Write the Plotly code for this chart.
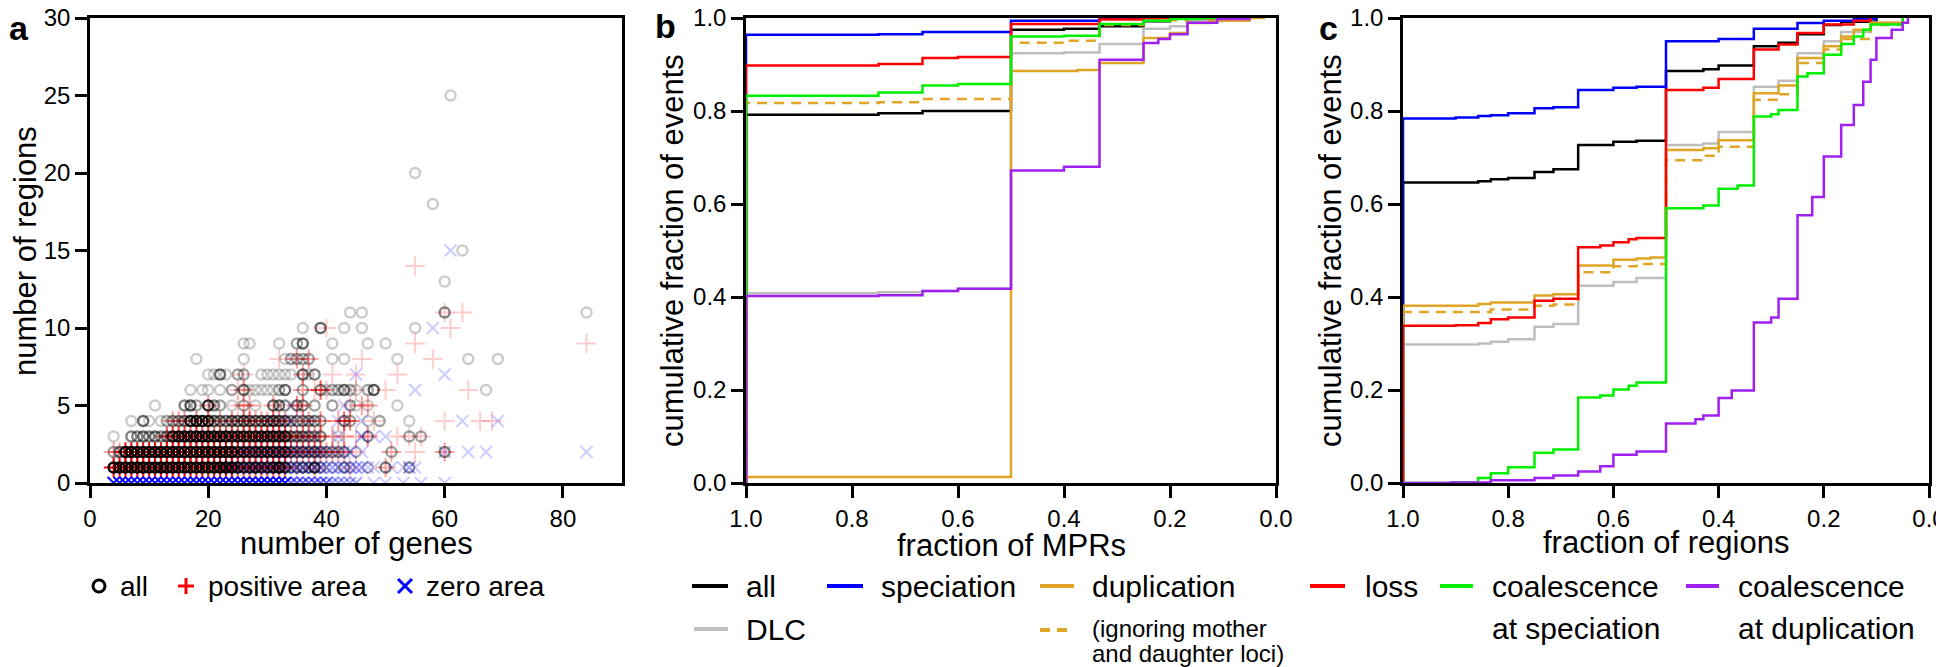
import plotly.graph_objects as go

# ---------------------------------------------------------------------------
# panel a: one entry per (number of genes, number of regions) spot,
# third value = how many gene families sit on that spot (drives darkness)
all_pts = [
    # 1 region
    (4, 1, 30), (5, 1, 30), (6, 1, 30), (7, 1, 30), (8, 1, 30), (9, 1, 30), (10, 1, 30),
    (11, 1, 30), (12, 1, 30), (13, 1, 30), (14, 1, 30), (15, 1, 30), (16, 1, 30), (17, 1, 30),
    (18, 1, 30), (19, 1, 30), (20, 1, 30), (21, 1, 30), (22, 1, 30), (23, 1, 30), (24, 1, 30),
    (25, 1, 8), (26, 1, 6), (27, 1, 6), (28, 1, 8), (29, 1, 6), (30, 1, 6), (31, 1, 8),
    (32, 1, 20), (33, 1, 6), (34, 1, 2), (35, 1, 2), (36, 1, 3), (37, 1, 2), (38, 1, 6),
    (39, 1, 2), (41, 1, 1), (43, 1, 2), (44, 1, 1), (47, 1, 1), (50, 1, 3), (54, 1, 2),
    # 2 regions
    (4, 2, 2), (5, 2, 4), (6, 2, 25), (7, 2, 25), (8, 2, 25), (9, 2, 25), (10, 2, 25),
    (11, 2, 25), (12, 2, 25), (13, 2, 25), (14, 2, 25), (15, 2, 25), (16, 2, 25), (17, 2, 25),
    (18, 2, 25), (19, 2, 25), (20, 2, 25), (21, 2, 25), (22, 2, 25), (23, 2, 25), (24, 2, 25),
    (25, 2, 8), (26, 2, 8), (27, 2, 8), (28, 2, 8), (29, 2, 8), (30, 2, 8), (31, 2, 8),
    (32, 2, 8), (33, 2, 8), (34, 2, 4), (35, 2, 3), (36, 2, 4), (37, 2, 3), (38, 2, 4),
    (39, 2, 3), (40, 2, 2), (41, 2, 2), (42, 2, 2), (43, 2, 2), (45, 2, 1), (51, 2, 2), (60, 2, 3),
    # 3 regions
    (4, 3, 1), (7, 3, 3), (8, 3, 3), (9, 3, 4), (10, 3, 3), (11, 3, 4), (12, 3, 3), (13, 3, 4),
    (14, 3, 10), (15, 3, 15), (16, 3, 15), (17, 3, 15), (18, 3, 15), (19, 3, 15), (20, 3, 15),
    (21, 3, 15), (22, 3, 15), (23, 3, 15), (24, 3, 10), (25, 3, 10), (26, 3, 10), (27, 3, 10),
    (28, 3, 10), (29, 3, 10), (30, 3, 10), (31, 3, 10), (32, 3, 10), (33, 3, 10), (34, 3, 4),
    (35, 3, 4), (36, 3, 4), (37, 3, 3), (38, 3, 3), (39, 3, 3), (42, 3, 1), (47, 3, 2),
    (54, 3, 2), (56, 3, 2),
    # 4 regions
    (7, 4, 1), (9, 4, 4), (10, 4, 1), (12, 4, 1), (13, 4, 2), (14, 4, 3), (15, 4, 3), (16, 4, 4),
    (17, 4, 12), (18, 4, 12), (19, 4, 12), (20, 4, 10), (21, 4, 5), (22, 4, 4), (23, 4, 4),
    (24, 4, 5), (25, 4, 5), (26, 4, 6), (27, 4, 5), (28, 4, 5), (29, 4, 5), (30, 4, 6),
    (31, 4, 6), (32, 4, 6), (33, 4, 4), (34, 4, 3), (35, 4, 3), (36, 4, 3), (37, 4, 3),
    (38, 4, 3), (39, 4, 2), (43, 4, 3), (44, 4, 2), (47, 4, 1), (49, 4, 2), (54, 4, 1),
    # 5 regions
    (11, 5, 1), (16, 5, 3), (17, 5, 5), (18, 5, 2), (20, 5, 8), (21, 5, 3), (22, 5, 2),
    (24, 5, 1), (26, 5, 2), (28, 5, 1), (31, 5, 4), (32, 5, 4), (33, 5, 2), (35, 5, 3),
    (36, 5, 3), (38, 5, 2), (41, 5, 2), (44, 5, 2), (45, 5, 1), (47, 5, 1), (52, 5, 1),
    # 6 regions
    (17, 6, 1), (19, 6, 1), (20, 6, 1), (22, 6, 1), (24, 6, 2), (26, 6, 4), (27, 6, 1),
    (28, 6, 1), (29, 6, 1), (30, 6, 1), (31, 6, 1), (32, 6, 2), (33, 6, 4), (36, 6, 2),
    (39, 6, 3), (40, 6, 1), (41, 6, 2), (42, 6, 2), (43, 6, 4), (44, 6, 2), (45, 6, 1),
    (47, 6, 2), (48, 6, 5), (67, 6, 1),
    # 7+ regions
    (20, 7, 1), (21, 7, 1), (22, 7, 4), (23, 7, 1), (25, 7, 2), (26, 7, 2), (29, 7, 1),
    (30, 7, 1), (31, 7, 1), (32, 7, 1), (33, 7, 1), (34, 7, 1), (36, 7, 4), (37, 7, 1), (38, 7, 3),
    (18, 8, 1), (26, 8, 1), (33, 8, 1), (34, 8, 2), (35, 8, 2), (36, 8, 2), (37, 8, 2),
    (41, 8, 1), (43, 8, 1), (52, 8, 1), (64, 8, 1), (69, 8, 1),
    (26, 9, 1), (27, 9, 1), (32, 9, 1), (35, 9, 2), (36, 9, 4), (41, 9, 1), (47, 9, 1), (50, 9, 1),
    (36, 10, 1), (39, 10, 4), (43, 10, 1), (46, 10, 1), (55, 10, 1),
    (44, 11, 1), (46, 11, 1), (60, 11, 3), (84, 11, 1),
    (60, 13, 1), (63, 15, 1), (58, 18, 1), (55, 20, 1), (61, 25, 1),
]

pos_pts = [
    (4, 1, 20), (5, 1, 20), (6, 1, 20), (7, 1, 20), (8, 1, 20), (9, 1, 20), (10, 1, 20),
    (11, 1, 20), (12, 1, 20), (13, 1, 20), (14, 1, 20), (15, 1, 20), (16, 1, 20), (17, 1, 20),
    (18, 1, 20), (19, 1, 20), (20, 1, 20), (21, 1, 20), (22, 1, 20), (23, 1, 20), (24, 1, 20),
    (25, 1, 5), (26, 1, 5), (27, 1, 5), (28, 1, 5), (29, 1, 5), (30, 1, 5), (31, 1, 5),
    (32, 1, 5), (33, 1, 5), (35, 1, 1), (38, 1, 2), (44, 1, 1), (50, 1, 2),
    (4, 2, 2), (5, 2, 2), (6, 2, 15), (7, 2, 15), (8, 2, 15), (9, 2, 15), (10, 2, 15),
    (11, 2, 15), (12, 2, 15), (13, 2, 15), (14, 2, 15), (15, 2, 15), (16, 2, 15), (17, 2, 15),
    (18, 2, 15), (19, 2, 15), (20, 2, 15), (21, 2, 15), (22, 2, 15), (23, 2, 15), (24, 2, 15),
    (25, 2, 6), (26, 2, 6), (27, 2, 6), (28, 2, 6), (29, 2, 6), (30, 2, 6), (31, 2, 6),
    (32, 2, 6), (33, 2, 6), (34, 2, 3), (35, 2, 3), (36, 2, 3), (37, 2, 3), (38, 2, 3),
    (39, 2, 3), (40, 2, 2), (41, 2, 2), (42, 2, 2), (43, 2, 2), (45, 2, 1), (51, 2, 2),
    (55, 2, 1), (60, 2, 2),
    (13, 3, 5), (14, 3, 5), (15, 3, 5), (16, 3, 5), (17, 3, 5), (18, 3, 5), (19, 3, 5),
    (20, 3, 5), (21, 3, 5), (22, 3, 5), (23, 3, 5), (24, 3, 5), (25, 3, 6), (26, 3, 6),
    (27, 3, 6), (28, 3, 6), (29, 3, 6), (30, 3, 6), (31, 3, 6), (32, 3, 6), (33, 3, 6),
    (34, 3, 3), (35, 3, 3), (36, 3, 3), (37, 3, 3), (38, 3, 3), (39, 3, 3), (41, 3, 2),
    (43, 3, 2), (45, 3, 1), (47, 3, 3), (52, 3, 1), (54, 3, 1), (56, 3, 1),
    (14, 4, 2), (15, 4, 2), (16, 4, 2), (18, 4, 3), (20, 4, 3), (22, 4, 2), (24, 4, 3),
    (26, 4, 3), (27, 4, 3), (28, 4, 2), (29, 4, 2), (30, 4, 2), (31, 4, 3), (32, 4, 3),
    (33, 4, 2), (36, 4, 2), (37, 4, 2), (39, 4, 3), (42, 4, 2), (43, 4, 4), (44, 4, 3),
    (48, 4, 1), (60, 4, 1), (66, 4, 1), (68, 4, 1),
    (20, 5, 2), (25, 5, 1), (26, 5, 2), (27, 5, 2), (31, 5, 2), (35, 5, 3), (36, 5, 2),
    (44, 5, 1), (46, 5, 2), (47, 5, 2),
    (25, 6, 1), (26, 6, 2), (36, 6, 2), (38, 6, 1), (39, 6, 5), (40, 6, 1), (45, 6, 1),
    (50, 6, 1), (64, 6, 1),
    (26, 7, 1), (36, 7, 2), (41, 7, 1), (45, 7, 1), (52, 7, 1),
    (32, 8, 1), (35, 8, 2), (37, 8, 2), (46, 8, 1), (58, 8, 1),
    (55, 9, 1), (84, 9, 1), (40, 10, 1), (61, 10, 1), (60, 11, 1), (63, 11, 1), (55, 14, 1),
]

zero_pts = [
    (4, 0, 15), (5, 0, 15), (6, 0, 15), (7, 0, 15), (8, 0, 15), (9, 0, 15), (10, 0, 15),
    (11, 0, 15), (12, 0, 15), (13, 0, 15), (14, 0, 15), (15, 0, 15), (16, 0, 15), (17, 0, 15),
    (18, 0, 15), (19, 0, 15), (20, 0, 15), (21, 0, 15), (22, 0, 15), (23, 0, 15), (24, 0, 15),
    (25, 0, 15), (26, 0, 15), (27, 0, 15), (28, 0, 15), (29, 0, 15), (30, 0, 15), (31, 0, 15),
    (32, 0, 15), (33, 0, 15), (34, 0, 4), (35, 0, 4), (36, 0, 4), (37, 0, 4), (38, 0, 4),
    (39, 0, 4), (40, 0, 4), (41, 0, 2), (42, 0, 2), (43, 0, 2), (44, 0, 2), (45, 0, 2),
    (48, 0, 1), (50, 0, 1), (53, 0, 1), (56, 0, 1), (60, 0, 1),
    (22, 1, 3), (23, 1, 3), (24, 1, 3), (25, 1, 3), (26, 1, 3), (27, 1, 3), (28, 1, 3),
    (29, 1, 3), (30, 1, 3), (31, 1, 3), (32, 1, 3), (33, 1, 3), (34, 1, 3), (35, 1, 3),
    (36, 1, 3), (37, 1, 3), (38, 1, 3), (39, 1, 3), (40, 1, 2), (41, 1, 2), (42, 1, 2),
    (43, 1, 2), (44, 1, 2), (45, 1, 2), (46, 1, 2), (47, 1, 1), (48, 1, 1), (51, 1, 1),
    (53, 1, 1), (54, 1, 2), (55, 1, 1),
    (25, 2, 2), (26, 2, 2), (27, 2, 2), (28, 2, 2), (29, 2, 2), (30, 2, 2), (31, 2, 2),
    (32, 2, 2), (33, 2, 2), (34, 2, 2), (35, 2, 2), (36, 2, 2), (37, 2, 2), (38, 2, 2),
    (39, 2, 2), (40, 2, 1), (41, 2, 1), (42, 2, 1), (43, 2, 1), (44, 2, 2), (46, 2, 1),
    (60, 2, 1), (64, 2, 1), (67, 2, 1), (84, 2, 1),
    (30, 3, 1), (33, 3, 1), (36, 3, 1), (38, 3, 1), (42, 3, 1), (46, 3, 2), (48, 3, 1), (50, 3, 1),
    (30, 4, 1), (32, 4, 1), (34, 4, 2), (37, 4, 1), (42, 4, 1), (46, 4, 1), (63, 4, 1), (69, 4, 1),
    (34, 5, 1), (43, 5, 1), (55, 6, 1), (45, 7, 1), (60, 7, 1), (58, 10, 1), (61, 15, 1),
]

# ---------------------------------------------------------------------------
# panel b: cumulative fraction of events vs fraction of MPRs
b_all_x = [1.0, 1.0, 0.75, 0.667, 0.5, 0.4, 0.333, 0.25, 0.2, 0.1]
b_all_y = [0.0, 0.792, 0.795, 0.800, 0.975, 0.977, 0.982, 0.993, 1.0, 1.0]
b_dlc_x = [1.0, 1.0, 0.75, 0.667, 0.6, 0.5, 0.4, 0.333, 0.25, 0.2, 0.167, 0.1, 0.05]
b_dlc_y = [0.0, 0.408, 0.410, 0.413, 0.418, 0.924, 0.926, 0.944, 0.977, 0.982, 0.993, 1.0, 1.0]
b_spec_x = [1.0, 1.0, 0.75, 0.667, 0.5, 0.333, 0.25, 0.1]
b_spec_y = [0.0, 0.964, 0.965, 0.970, 0.994, 0.999, 1.0, 1.0]
b_dup_x = [1.0, 1.0, 0.5, 0.375, 0.333, 0.25, 0.2, 0.167, 0.125, 0.05, 0.02]
b_dup_y = [0.0, 0.013, 0.886, 0.888, 0.903, 0.957, 0.968, 0.989, 0.994, 1.0, 1.0]
b_dupign_x = [1.0, 1.0, 0.75, 0.667, 0.5, 0.4, 0.333, 0.25, 0.167, 0.05]
b_dupign_y = [0.0, 0.817, 0.819, 0.826, 0.947, 0.951, 0.985, 0.995, 1.0, 1.0]
b_loss_x = [1.0, 1.0, 0.75, 0.667, 0.6, 0.5, 0.333, 0.25, 0.1]
b_loss_y = [0.0, 0.898, 0.901, 0.914, 0.916, 0.987, 0.997, 1.0, 1.0]
b_cspec_x = [1.0, 1.0, 0.75, 0.667, 0.6, 0.5, 0.4, 0.333, 0.25, 0.2, 0.143, 0.1]
b_cspec_y = [0.0, 0.833, 0.840, 0.855, 0.858, 0.960, 0.962, 0.987, 0.994, 0.998, 1.0, 1.0]
b_cdup_x = [1.0, 1.0, 0.75, 0.667, 0.6, 0.5, 0.4, 0.333, 0.25, 0.222, 0.2, 0.167, 0.111, 0.05]
b_cdup_y = [0.0, 0.402, 0.404, 0.413, 0.418, 0.672, 0.680, 0.910, 0.946, 0.955, 0.965, 0.990, 0.998, 1.0]

# panel c: cumulative fraction of events vs fraction of regions
c_all_x = [1.0, 1.0, 0.857, 0.833, 0.8, 0.75, 0.714, 0.667, 0.6, 0.556, 0.5, 0.429, 0.4,
           0.333, 0.286, 0.25, 0.2, 0.167, 0.1]
c_all_y = [0.0, 0.646, 0.649, 0.653, 0.656, 0.669, 0.675, 0.727, 0.734, 0.736, 0.886, 0.890,
           0.898, 0.939, 0.947, 0.965, 0.985, 0.992, 1.0]
c_dlc_x = [1.0, 1.0, 0.857, 0.833, 0.8, 0.75, 0.714, 0.667, 0.6, 0.556, 0.5, 0.429, 0.4,
           0.333, 0.286, 0.25, 0.2, 0.167, 0.111, 0.05]
c_dlc_y = [0.0, 0.298, 0.300, 0.304, 0.309, 0.336, 0.342, 0.424, 0.432, 0.441, 0.727, 0.730,
           0.755, 0.852, 0.865, 0.924, 0.950, 0.970, 0.990, 1.0]
c_spec_x = [1.0, 1.0, 0.9, 0.857, 0.833, 0.8, 0.75, 0.714, 0.667, 0.6, 0.556, 0.5, 0.4,
            0.333, 0.25, 0.2, 0.143, 0.1]
c_spec_y = [0.0, 0.784, 0.786, 0.789, 0.791, 0.795, 0.806, 0.808, 0.845, 0.850, 0.852, 0.950,
            0.955, 0.977, 0.989, 0.994, 0.998, 1.0]
c_dup_x = [1.0, 1.0, 0.857, 0.833, 0.75, 0.714, 0.667, 0.6, 0.556, 0.529, 0.5, 0.429, 0.4,
           0.333, 0.286, 0.25, 0.2, 0.167, 0.143, 0.111, 0.05]
c_dup_y = [0.0, 0.381, 0.385, 0.388, 0.403, 0.406, 0.468, 0.480, 0.483, 0.485, 0.716, 0.720,
           0.737, 0.838, 0.855, 0.914, 0.939, 0.960, 0.975, 0.990, 1.0]
c_dupign_x = [1.0, 1.0, 0.833, 0.75, 0.714, 0.667, 0.6, 0.556, 0.5, 0.429, 0.4, 0.333, 0.286,
              0.25, 0.2, 0.167, 0.111, 0.05]
c_dupign_y = [0.0, 0.368, 0.373, 0.381, 0.384, 0.453, 0.466, 0.471, 0.694, 0.704, 0.723,
              0.824, 0.836, 0.903, 0.932, 0.955, 0.985, 1.0]
c_loss_x = [1.0, 1.0, 0.9, 0.857, 0.833, 0.8, 0.75, 0.714, 0.667, 0.625, 0.6, 0.571, 0.556,
            0.5, 0.429, 0.4, 0.333, 0.286, 0.25, 0.2, 0.143, 0.111]
c_loss_y = [0.0, 0.338, 0.339, 0.344, 0.352, 0.356, 0.392, 0.396, 0.507, 0.511, 0.518, 0.524,
            0.527, 0.845, 0.850, 0.869, 0.932, 0.943, 0.968, 0.986, 0.994, 1.0]
c_cspec_x = [1.0, 0.909, 0.857, 0.833, 0.8, 0.75, 0.714, 0.667, 0.625, 0.6, 0.571, 0.556, 0.5,
             0.429, 0.4, 0.364, 0.333, 0.3, 0.286, 0.25, 0.231, 0.2, 0.167, 0.143, 0.125,
             0.111, 0.05]
c_cspec_y = [0.0, 0.001, 0.011, 0.021, 0.034, 0.065, 0.072, 0.184, 0.188, 0.201, 0.209, 0.216,
             0.591, 0.597, 0.633, 0.640, 0.788, 0.793, 0.802, 0.874, 0.881, 0.921, 0.944,
             0.960, 0.975, 0.986, 1.0]
c_cdup_x = [1.0, 0.909, 0.833, 0.75, 0.714, 0.667, 0.625, 0.6, 0.556, 0.5, 0.444, 0.429, 0.4,
            0.375, 0.333, 0.3, 0.286, 0.25, 0.222, 0.2, 0.167, 0.143, 0.125, 0.111, 0.1,
            0.071, 0.05, 0.04]
c_cdup_y = [0.0, 0.001, 0.006, 0.011, 0.016, 0.025, 0.036, 0.061, 0.068, 0.128, 0.137, 0.145,
            0.183, 0.199, 0.345, 0.356, 0.396, 0.576, 0.615, 0.702, 0.770, 0.813, 0.863,
            0.910, 0.957, 0.975, 0.990, 1.0]

W, H = 1944, 667
FONT = "Liberation Sans, Arial, sans-serif"


def px(x):
    return x / W


def py(y):
    return 1 - y / H


BLACK, GRAY, BLUE = "#000000", "#BEBEBE", "#0000FF"
ORANGE, RED, GREEN, PURPLE = "#E0A526", "#FF0000", "#00F000", "#A020F0"

fig = go.Figure()


def cloud(pts, symbol, color, size, alpha, lw=2):
    fig.add_trace(go.Scatter(
        x=[p[0] for p in pts], y=[p[1] for p in pts], mode="markers",
        marker=dict(symbol=symbol, size=size, color=color,
                    opacity=[1 - (1 - alpha) ** p[2] for p in pts],
                    line=dict(width=lw, color=color)),
        xaxis="x", yaxis="y", showlegend=False, hoverinfo="skip"))


cloud(pos_pts, "cross-thin-open", RED, 14, 0.2)
cloud(zero_pts, "x-thin-open", BLUE, 12, 0.2)
cloud(all_pts, "circle-open", BLACK, 10, 0.2, 2.4)

series = [
    (b_all_x, b_all_y, c_all_x, c_all_y, BLACK, "solid"),
    (b_dlc_x, b_dlc_y, c_dlc_x, c_dlc_y, GRAY, "solid"),
    (b_spec_x, b_spec_y, c_spec_x, c_spec_y, BLUE, "solid"),
    (b_dup_x, b_dup_y, c_dup_x, c_dup_y, ORANGE, "solid"),
    (b_dupign_x, b_dupign_y, c_dupign_x, c_dupign_y, ORANGE, "10px,7px"),
    (b_loss_x, b_loss_y, c_loss_x, c_loss_y, RED, "solid"),
    (b_cspec_x, b_cspec_y, c_cspec_x, c_cspec_y, GREEN, "solid"),
    (b_cdup_x, b_cdup_y, c_cdup_x, c_cdup_y, PURPLE, "solid"),
]
for bx, by, cx, cy, col, dash in series:
    fig.add_trace(go.Scatter(x=bx, y=by, mode="lines", xaxis="x2", yaxis="y2",
                             line=dict(color=col, width=2.5, shape="hv", dash=dash),
                             showlegend=False, hoverinfo="skip"))
    fig.add_trace(go.Scatter(x=cx, y=cy, mode="lines", xaxis="x3", yaxis="y3",
                             line=dict(color=col, width=2.5, shape="hv", dash=dash),
                             showlegend=False, hoverinfo="skip"))

axis_style = dict(showline=True, linewidth=2.5, linecolor="black", mirror=True,
                  ticks="outside", ticklen=12, tickwidth=2.5, tickcolor="black",
                  showgrid=False, zeroline=False, automargin=False,
                  ticklabeloverflow="allow",
                  tickfont=dict(size=24, color="black", family=FONT))
ydom = [py(475), py(10)]

fig.update_layout(
    width=W, height=H, margin=dict(l=0, r=0, t=0, b=0),
    paper_bgcolor="white", plot_bgcolor="white",
    font=dict(family=FONT, color="black"),
    xaxis=dict(domain=[px(82), px(614)], anchor="y", range=[0, 90], dtick=20, **axis_style),
    yaxis=dict(domain=ydom, anchor="x", range=[0, 30], dtick=5, **axis_style),
    xaxis2=dict(domain=[px(738), px(1268)], anchor="y2", range=[1, 0], dtick=0.2,
                tickformat=".1f", **axis_style),
    yaxis2=dict(domain=ydom, anchor="x2", range=[0, 1], dtick=0.2, tickformat=".1f",
                **axis_style),
    xaxis3=dict(domain=[px(1395), px(1921)], anchor="y3", range=[1, 0], dtick=0.2,
                tickformat=".1f", **axis_style),
    yaxis3=dict(domain=ydom, anchor="x3", range=[0, 1], dtick=0.2, tickformat=".1f",
                **axis_style),
)

ann = []


def text(x, y, s, size=30, anchor="left", angle=0, bold=False):
    ann.append(dict(x=px(x), y=py(y), xref="paper", yref="paper", text=f"<b>{s}</b>" if bold else s,
                    showarrow=False, xanchor=anchor, yanchor="middle", textangle=angle,
                    font=dict(size=size, family=FONT, color="black")))


# panel letters and axis titles
text(11, 20, "a", 34, "center", bold=True)
text(657, 18, "b", 34, "center", bold=True)
text(1320, 20, "c", 34, "center", bold=True)
text(348, 535, "number of genes", 31, "center")
text(17, 243, "number of regions", 31, "center", -90)
text(1003, 537, "fraction of MPRs", 31, "center")
text(664, 243, "cumulative fraction of events", 31, "center", -90)
text(1658, 534, "fraction of regions", 31, "center")
text(1322, 243, "cumulative fraction of events", 31, "center", -90)

# legends
text(110, 578, "all", 28)
text(198, 578, "positive area", 28)
text(416, 578, "zero area", 28)
text(736, 578, "all")
text(871, 578, "speciation")
text(1082, 578, "duplication")
text(736, 621, "DLC")
text(1082, 620, "(ignoring mother", 24)
text(1082, 645, "and daughter loci)", 24)
text(1355, 578, "loss")
text(1482, 578, "coalescence")
text(1482, 620, "at speciation")
text(1728, 578, "coalescence")
text(1728, 620, "at duplication")

shapes = []


def seg(x0, y0, x1, y1, col, w=4, dash="solid"):
    shapes.append(dict(type="line", xref="paper", yref="paper", x0=px(x0), y0=py(y0),
                       x1=px(x1), y1=py(y1), line=dict(color=col, width=w, dash=dash)))


seg(684, 578, 720, 578, BLACK)
seg(819, 578, 855, 578, BLUE)
seg(1032, 578, 1066, 578, ORANGE)
seg(686, 621, 720, 621, GRAY)
seg(1032, 622, 1066, 622, ORANGE, dash="10px,7px")
seg(1302, 578, 1337, 578, RED)
seg(1432, 578, 1465, 578, GREEN)
seg(1678, 578, 1711, 578, PURPLE)
shapes.append(dict(type="circle", xref="paper", yref="paper", x0=px(85), x1=px(97),
                   y0=py(584), y1=py(572), line=dict(color=BLACK, width=3)))
seg(170, 578, 186, 578, RED, 3)
seg(178, 570, 178, 586, RED, 3)
seg(390, 571, 404, 585, BLUE, 3)
seg(390, 585, 404, 571, BLUE, 3)

fig.update_layout(annotations=ann, shapes=shapes)
fig.write_html("out.html")
